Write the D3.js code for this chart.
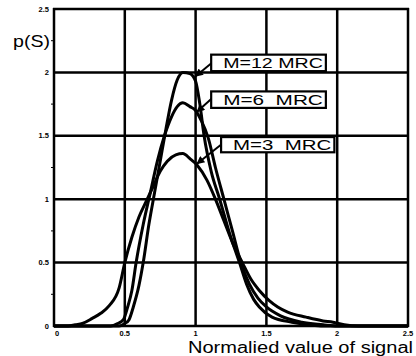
<!DOCTYPE html>
<html>
<head>
<meta charset="utf-8">
<script src="https://cdn.jsdelivr.net/npm/d3@7"></script>
<style>
  body { margin: 0; background: #fff; }
  svg { display: block; font-family: "Liberation Sans", Arial, sans-serif; }
</style>
</head>
<body>
<div id="chart"></div>
<script>
// values: [normalised signal, p(S)]
const m3 = [[0, 0], [0.1, 0], [0.15, 0.01], [0.2, 0.02], [0.27, 0.06], [0.33, 0.1], [0.39, 0.16],
  [0.46, 0.3], [0.5, 0.5], [0.55, 0.7], [0.6, 0.86], [0.65, 0.98], [0.7, 1.1], [0.75, 1.22],
  [0.8, 1.3], [0.86, 1.35], [0.91, 1.36], [0.96, 1.32], [1.01, 1.27], [1.08, 1.15], [1.14, 1.0],
  [1.2, 0.83], [1.26, 0.66], [1.33, 0.5], [1.39, 0.37], [1.45, 0.28], [1.52, 0.2], [1.58, 0.15],
  [1.65, 0.11], [1.78, 0.07], [1.9, 0.04], [1.97, 0.03], [2.05, 0.01], [2.15, 0], [2.5, 0]];

const m6 = [[0, 0], [0.4, 0], [0.45, 0.02], [0.49, 0.05], [0.52, 0.15], [0.55, 0.28], [0.58, 0.5],
  [0.63, 0.8], [0.68, 1.05], [0.73, 1.3], [0.78, 1.5], [0.83, 1.65], [0.87, 1.73], [0.91, 1.76],
  [0.96, 1.73], [1.0, 1.7], [1.04, 1.62], [1.09, 1.48], [1.14, 1.25], [1.2, 1.0], [1.26, 0.75],
  [1.32, 0.5], [1.38, 0.33], [1.44, 0.22], [1.5, 0.15], [1.6, 0.08], [1.75, 0.03], [1.9, 0.01],
  [2.0, 0], [2.5, 0]];

const m12 = [[0, 0], [0.46, 0], [0.5, 0.02], [0.53, 0.05], [0.56, 0.15], [0.6, 0.32], [0.63, 0.5],
  [0.67, 0.8], [0.71, 1.05], [0.75, 1.3], [0.79, 1.55], [0.83, 1.78], [0.87, 1.94], [0.91, 2.0],
  [0.96, 1.99], [1.0, 1.93], [1.03, 1.75], [1.06, 1.5], [1.11, 1.22], [1.17, 1.0], [1.24, 0.73],
  [1.31, 0.5], [1.36, 0.33], [1.41, 0.21], [1.45, 0.15], [1.54, 0.07], [1.68, 0.03], [1.8, 0.01],
  [1.9, 0], [2.5, 0]];

const xTicks = [0, 0.5, 1, 1.5, 2, 2.5];
const yTicks = [0, 0.5, 1, 1.5, 2, 2.5];
const xTickLabels = ["0", "0.5", "1", "1.5", "2", "2.5"];
const yTickLabels = ["0", "0.5", "1", "1.5", "2", "2.5"];

// callouts: label, box corners and arrow start/tip, all in data units
const labels = [
  {text: "M=12 MRC", x0: 1.11, x1: 1.92, y0: 2.14, y1: 2.01, from: [1.12, 2.08], tip: [1.0, 1.97]},
  {text: "M=6\u00a0\u00a0MRC", x0: 1.11, x1: 1.92, y0: 1.85, y1: 1.72, from: [1.12, 1.8], tip: [1.01, 1.69]},
  {text: "M=3\u00a0\u00a0MRC", x0: 1.18, x1: 1.98, y0: 1.49, y1: 1.37, from: [1.19, 1.44], tip: [1.01, 1.28]}
];

const width = 416, height = 356;
const margin = {top: 9, right: 8, bottom: 30, left: 54};

const svg = d3.select("#chart").append("svg")
  .attr("width", width)
  .attr("height", height);

svg.append("rect").attr("width", width).attr("height", height).attr("fill", "#fff");

const x = d3.scaleLinear().domain([0, 2.5]).range([margin.left, width - margin.right]);
const y = d3.scaleLinear().domain([0, 2.5]).range([height - margin.bottom, margin.top]);

// grid
svg.append("g")
  .selectAll("line")
  .data(xTicks)
  .join("line")
  .attr("x1", d => x(d)).attr("x2", d => x(d))
  .attr("y1", y(0) + 1).attr("y2", y(2.5) - 1)
  .attr("stroke", "#000").attr("stroke-width", 2.5);

svg.append("g")
  .selectAll("line")
  .data(yTicks)
  .join("line")
  .attr("x1", x(0) - 1).attr("x2", x(2.5) + 1)
  .attr("y1", d => y(d)).attr("y2", d => y(d))
  .attr("stroke", "#000").attr("stroke-width", 2.5);

// small ticks on the left axis
svg.append("g")
  .selectAll("line")
  .data(d3.range(0.25, 2.5, 0.5))
  .join("line")
  .attr("x1", x(0) - 3).attr("x2", x(0))
  .attr("y1", d => y(d)).attr("y2", d => y(d))
  .attr("stroke", "#000").attr("stroke-width", 1);

// tick labels
svg.append("g")
  .selectAll("text")
  .data(yTicks)
  .join("text")
  .attr("x", x(0) - 5)
  .attr("y", d => y(d) + 2.5)
  .attr("text-anchor", "end")
  .attr("font-size", 7.5)
  .attr("font-weight", "bold")
  .text((d, i) => yTickLabels[i]);

svg.append("g")
  .selectAll("text")
  .data(xTicks)
  .join("text")
  .attr("x", (d, i) => x(d) + (i === 0 ? 3 : 0))
  .attr("y", y(0) + 10)
  .attr("text-anchor", "middle")
  .attr("font-size", 7.5)
  .attr("font-weight", "bold")
  .text((d, i) => xTickLabels[i]);

// curves
const line = d3.line()
  .x(d => x(d[0]))
  .y(d => y(d[1]))
  .curve(d3.curveMonotoneX);

svg.append("g")
  .selectAll("path")
  .data([m3, m6, m12])
  .join("path")
  .attr("d", line)
  .attr("fill", "none")
  .attr("stroke", "#000")
  .attr("stroke-width", 3)
  .attr("stroke-linejoin", "round");

// callouts
svg.append("defs").append("marker")
  .attr("id", "head")
  .attr("viewBox", "0 0 10 10")
  .attr("refX", 9).attr("refY", 5)
  .attr("markerWidth", 10).attr("markerHeight", 8)
  .attr("markerUnits", "userSpaceOnUse")
  .attr("orient", "auto")
  .append("path")
  .attr("d", "M0,0L10,5L0,10z")
  .attr("fill", "#000");

const callout = svg.append("g").selectAll("g").data(labels).join("g");

callout.append("line")
  .attr("x1", d => x(d.from[0])).attr("y1", d => y(d.from[1]))
  .attr("x2", d => x(d.tip[0])).attr("y2", d => y(d.tip[1]))
  .attr("stroke", "#000").attr("stroke-width", 2)
  .attr("marker-end", "url(#head)");

callout.append("rect")
  .attr("x", d => x(d.x0)).attr("y", d => y(d.y0))
  .attr("width", d => x(d.x1) - x(d.x0))
  .attr("height", d => y(d.y1) - y(d.y0))
  .attr("fill", "#fff")
  .attr("stroke", "#000").attr("stroke-width", 2.2);

callout.append("text")
  .attr("x", d => x(d.x0) + 12)
  .attr("y", d => (y(d.y0) + y(d.y1)) / 2 + 5)
  .attr("font-size", 14)
  .attr("textLength", d => x(d.x1) - x(d.x0) - 15)
  .attr("lengthAdjust", "spacingAndGlyphs")
  .text(d => d.text);

// axis titles
svg.append("text")
  .attr("x", 13).attr("y", 47)
  .attr("font-size", 17)
  .attr("textLength", 37)
  .attr("lengthAdjust", "spacingAndGlyphs")
  .text("p(S)");

svg.append("text")
  .attr("x", 188).attr("y", 353)
  .attr("font-size", 16)
  .attr("textLength", 225)
  .attr("lengthAdjust", "spacingAndGlyphs")
  .text("Normalied value of signal");
</script>
</body>
</html>
